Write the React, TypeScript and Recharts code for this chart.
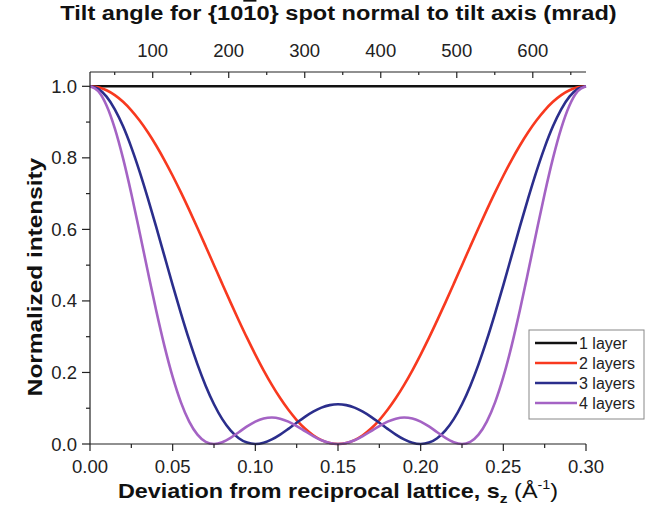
import { LineChart, Line, XAxis, YAxis } from 'recharts';

// deviation s_z (1/Å)
const sValues = [
  0, 0.005, 0.01, 0.015, 0.02, 0.025, 0.03, 0.035, 0.04, 0.045, 0.05, 0.055, 0.06, 0.065, 0.07, 0.075,
  0.08, 0.085, 0.09, 0.095, 0.1, 0.105, 0.11, 0.115, 0.12, 0.125, 0.13, 0.135, 0.14, 0.145, 0.15,
  0.155, 0.16, 0.165, 0.17, 0.175, 0.18, 0.185, 0.19, 0.195, 0.2, 0.205, 0.21, 0.215, 0.22, 0.225,
  0.23, 0.235, 0.24, 0.245, 0.25, 0.255, 0.26, 0.265, 0.27, 0.275, 0.28, 0.285, 0.29, 0.295, 0.3,
];

const layer1 = [
  1, 1, 1, 1, 1, 1, 1, 1, 1, 1, 1, 1, 1, 1, 1, 1, 1, 1, 1, 1, 1, 1, 1, 1, 1, 1, 1, 1, 1, 1, 1,
  1, 1, 1, 1, 1, 1, 1, 1, 1, 1, 1, 1, 1, 1, 1, 1, 1, 1, 1, 1, 1, 1, 1, 1, 1, 1, 1, 1, 1, 1,
];

const layer2 = [
  1, 0.9973, 0.9891, 0.9755, 0.9568, 0.933, 0.9045, 0.8716, 0.8346, 0.7939, 0.75, 0.7034, 0.6545,
  0.604, 0.5523, 0.5, 0.4477, 0.396, 0.3455, 0.2966, 0.25, 0.2061, 0.1654, 0.1284, 0.0955, 0.067,
  0.0432, 0.0245, 0.0109, 0.0027, 0,
  0.0027, 0.0109, 0.0245, 0.0432, 0.067, 0.0955, 0.1284, 0.1654, 0.2061, 0.25, 0.2966, 0.3455,
  0.396, 0.4477, 0.5, 0.5523, 0.604, 0.6545, 0.7034, 0.75, 0.7939, 0.8346, 0.8716, 0.9045, 0.933,
  0.9568, 0.9755, 0.9891, 0.9973, 1,
];

const layer3 = [
  1, 0.9927, 0.9711, 0.9358, 0.8881, 0.8294, 0.7616, 0.6868, 0.6075, 0.5259, 0.4444, 0.3654, 0.2909,
  0.2227, 0.1624, 0.1111, 0.0695, 0.0379, 0.0162, 0.0039, 0, 0.0034, 0.0127, 0.0263, 0.0424, 0.0595,
  0.076, 0.0904, 0.1016, 0.1087, 0.1111,
  0.1087, 0.1016, 0.0904, 0.076, 0.0595, 0.0424, 0.0263, 0.0127, 0.0034, 0, 0.0039, 0.0162, 0.0379,
  0.0695, 0.1111, 0.1624, 0.2227, 0.2909, 0.3654, 0.4444, 0.5259, 0.6075, 0.6868, 0.7616, 0.8294,
  0.8881, 0.9358, 0.9711, 0.9927, 1,
];

const layer4 = [
  1, 0.9864, 0.9464, 0.8824, 0.7985, 0.6998, 0.592, 0.4813, 0.3737, 0.2743, 0.1875, 0.1164, 0.0625,
  0.0261, 0.006, 0, 0.0049, 0.0171, 0.033, 0.0491, 0.0625, 0.0712, 0.0741, 0.0709, 0.0625, 0.0503,
  0.0361, 0.0222, 0.0104, 0.0027, 0,
  0.0027, 0.0104, 0.0222, 0.0361, 0.0503, 0.0625, 0.0709, 0.0741, 0.0712, 0.0625, 0.0491, 0.033,
  0.0171, 0.0049, 0, 0.006, 0.0261, 0.0625, 0.1164, 0.1875, 0.2743, 0.3737, 0.4813, 0.592, 0.6998,
  0.7985, 0.8824, 0.9464, 0.9864, 1,
];

const seriesNames = ['1 layer', '2 layers', '3 layers', '4 layers'];
const seriesKeys = ['l1', 'l2', 'l3', 'l4'];
const seriesColors = ['#111111', '#f8391f', '#2b2e8c', '#a463c4'];

const sTicks = [0, 0.025, 0.05, 0.075, 0.1, 0.125, 0.15, 0.175, 0.2, 0.225, 0.25, 0.275, 0.3];
const mradTicks = [50, 100, 150, 200, 250, 300, 350, 400, 450, 500, 550, 600, 650];
const yTicks = [0, 0.1, 0.2, 0.3, 0.4, 0.5, 0.6, 0.7, 0.8, 0.9, 1.0];

const data = sValues.map((s, i) => ({
  s,
  l1: layer1[i],
  l2: layer2[i],
  l3: layer3[i],
  l4: layer4[i],
}));

const FONT = '"Liberation Sans", Arial, sans-serif';
const INK = '#222';
const TICK_FS = 18.5;

const BottomTick = ({ x, y, payload, index }: any) => {
  const major = index % 2 === 0;
  return (
    <g>
      <line x1={x} y1={y} x2={x} y2={y + (major ? 7 : 4)} stroke={INK} strokeWidth={1.2} />
      {major && (
        <text x={x} y={y + 29} textAnchor="middle" fontSize={TICK_FS} fontFamily={FONT} fill={INK}>
          {payload.value.toFixed(2)}
        </text>
      )}
    </g>
  );
};

const TopTick = ({ x, y, payload, index }: any) => {
  const major = index % 2 === 1;
  return (
    <g>
      <line x1={x} y1={y} x2={x} y2={y + (major ? 6 : 3)} stroke={INK} strokeWidth={1.2} />
      {major && (
        <text x={x} y={y - 15} textAnchor="middle" fontSize={TICK_FS} fontFamily={FONT} fill={INK}>
          {payload.value}
        </text>
      )}
    </g>
  );
};

const LeftTick = ({ x, y, payload, index }: any) => {
  const major = index % 2 === 0;
  return (
    <g>
      <line x1={x} y1={y} x2={x - (major ? 8 : 4)} y2={y} stroke={INK} strokeWidth={1.2} />
      {major && (
        <text x={x - 13} y={y + 6.5} textAnchor="end" fontSize={TICK_FS} fontFamily={FONT} fill={INK}>
          {payload.value.toFixed(1)}
        </text>
      )}
    </g>
  );
};

export default function App() {
  return (
    <div style={{ position: 'absolute', left: 0, top: 0, width: 647, height: 520, background: '#fff' }}>
      <LineChart width={647} height={520} data={data} margin={{ top: 0, right: 61, bottom: 0, left: 0 }}>
        <XAxis
          dataKey="s"
          type="number"
          domain={[0, 0.3]}
          ticks={sTicks}
          interval={0}
          height={76}
          tickSize={0}
          tickMargin={0}
          tickLine={false}
          tick={<BottomTick />}
          axisLine={{ stroke: INK, strokeWidth: 1.2 }}
        />
        <XAxis
          xAxisId="top"
          orientation="top"
          dataKey="s"
          type="number"
          domain={[17.5, 670]}
          allowDataOverflow
          ticks={mradTicks}
          interval={0}
          height={72}
          tickSize={0}
          tickMargin={0}
          tickLine={false}
          tick={<TopTick />}
          axisLine={{ stroke: INK, strokeWidth: 1.2 }}
        />
        <YAxis
          type="number"
          domain={[0, 1.04]}
          ticks={yTicks}
          interval={0}
          width={90}
          tickSize={0}
          tickMargin={0}
          tickLine={false}
          tick={<LeftTick />}
          axisLine={{ stroke: INK, strokeWidth: 1.2 }}
        />
        {seriesKeys.map((k, i) => (
          <Line
            key={k}
            dataKey={k}
            name={seriesNames[i]}
            type="monotone"
            stroke={seriesColors[i]}
            strokeWidth={2.6}
            dot={false}
            isAnimationActive={false}
          />
        ))}
        <g transform="translate(338.5, 19.5) scale(1.21, 1)">
          <text x={0} y={0} textAnchor="middle" fontSize={19.5} fontWeight="bold" fontFamily={FONT} fill="#111">
            Tilt angle for {'{'}10<tspan style={{ textDecoration: 'overline' }}>1</tspan>0{'}'} spot normal to tilt axis (mrad)
          </text>
        </g>
        <g transform="translate(338, 498) scale(1.2, 1)">
          <text x={0} y={0} textAnchor="middle" fontSize={19.5} fontWeight="bold" fontFamily={FONT} fill="#111">
            Deviation from reciprocal lattice, s
            <tspan fontSize={13} dy={5}>z</tspan>
            <tspan dy={-5} fontWeight="normal"> (Å</tspan>
            <tspan fontSize={12} fontWeight="normal" dy={-9}>-1</tspan>
            <tspan dy={9} fontWeight="normal">)</tspan>
          </text>
        </g>
        <g transform="translate(42, 277) rotate(-90) scale(1.25, 1)">
          <text x={0} y={0} textAnchor="middle" fontSize={19.5} fontWeight="bold" fontFamily={FONT} fill="#111">
            Normalized intensity
          </text>
        </g>
        <g>
          <rect x={529} y={330} width={115} height={89} fill="#fff" stroke="#888" strokeWidth={1} />
          {seriesNames.map((n, i) => (
            <g key={n}>
              <line x1={535} x2={577} y1={343 + i * 20} y2={343 + i * 20} stroke={seriesColors[i]} strokeWidth={2.6} />
              <text x={579} y={349 + i * 20} fontSize={16} fontFamily={FONT} fill={INK}>
                {n}
              </text>
            </g>
          ))}
        </g>
      </LineChart>
    </div>
  );
}
